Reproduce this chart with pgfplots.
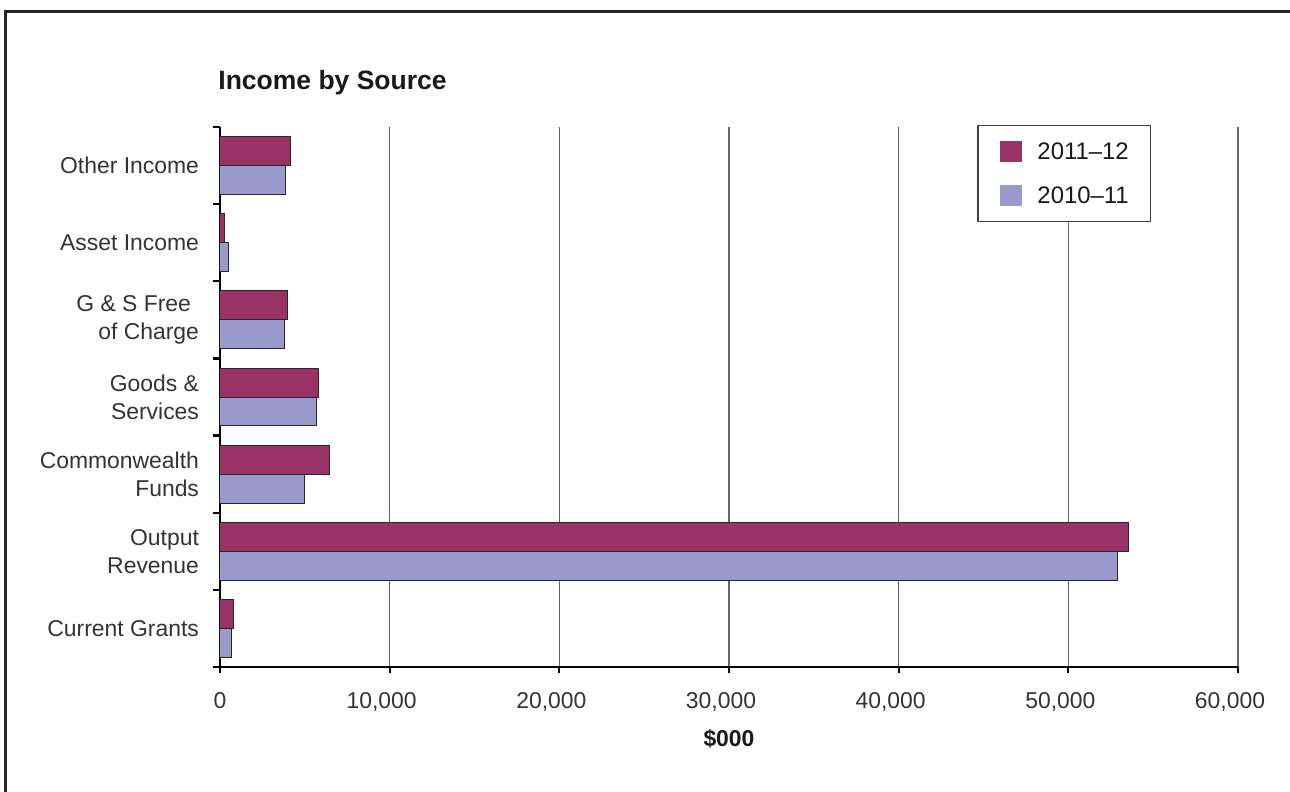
\documentclass[border=0pt]{standalone}
\usepackage{fontspec}
\setmainfont{Liberation Sans}
\usepackage{pgfplots}
\pgfplotsset{compat=1.18}

\definecolor{plum}{HTML}{993366}
\definecolor{lavender}{HTML}{9999CC}
\definecolor{edge}{HTML}{262626}
\definecolor{labelgray}{HTML}{333333}

\begin{document}
\begin{tikzpicture}[x=1bp,y=1bp]
% page area and outer frame
\useasboundingbox (-110bp,-62.5bp) rectangle (535bp,333.5bp);
\draw[line width=1.5bp, edge] (-107bp,-70bp) -- (-107bp,327.5bp) -- (545bp,327.5bp);
\begin{axis}[
  at={(0,0)}, anchor=south west,
  scale only axis,
  width=509bp, height=270bp,
  xbar,
  bar width=0.375,
  xmin=0, xmax=60000,
  ymin=-0.5, ymax=6.5,
  xtick={0,10000,...,60000},
  scaled x ticks=false,
  % thousands labels carry a trailing gap, as in the original layout
  xticklabels={0,{10,000\hspace*{8bp}},{20,000\hspace*{8bp}},{30,000\hspace*{8bp}},{40,000\hspace*{8bp}},{50,000\hspace*{8bp}},{60,000\hspace*{8bp}}},
  ytick={0,...,6},
  yticklabels={Current Grants,{Output\\Revenue},{Commonwealth\\Funds},{Goods \&\\Services},{G \& S Free\hspace*{4bp}\\of Charge},Asset Income,Other Income},
  minor ytick={-0.5,0.5,...,6.5},
  axis x line=bottom, axis y line=left,
  axis line style={-, line width=1.1bp, black},
  major y tick style={draw=none},
  minor tick length=3.5bp,
  major tick length=3bp,
  tick align=outside,
  xtick align=outside, ytick align=outside,
  tick style={line width=1.1bp, black},
  xmajorgrids,
  grid style={line width=0.6bp, black!60},
  ticklabel style={font=\fontsize{11.5}{14}\selectfont, text=labelgray},
  yticklabel style={align=right, xshift=-4bp},
  xticklabel style={yshift=-6bp},
  xlabel={\textbf{\$000}},
  xlabel style={font=\fontsize{11.5}{14}\selectfont, text=black!90, yshift=-2.5bp},
  legend style={
    at={(rel axis cs:0.744,1.0037)}, anchor=north west,
    draw=black!75, line width=0.6bp,
    inner xsep=11bp, inner ysep=7.5bp,
    row sep=11.2bp,
    font=\fontsize{12}{14}\selectfont,
    nodes={inner sep=0pt, text height=8.5bp, text depth=0pt, text=black!90},
  },
  legend cell align=left,
  legend image code/.code={%
    \fill[#1, draw=none] (0bp,-5.4bp) rectangle (10.8bp,5.4bp);
    \path (18.5bp,0bp);
  },
]
% 2011--12 ($000)
\addplot[fill=plum, draw=edge, line width=0.5bp, bar shift=0.1875]
  coordinates {(790,0) (53570,1) (6450,2) (5780,3) (3990,4) (250,5) (4150,6)};
% 2010--11 ($000)
\addplot[fill=lavender, draw=edge, line width=0.5bp, bar shift=-0.1875]
  coordinates {(650,0) (52900,1) (4970,2) (5700,3) (3820,4) (490,5) (3890,6)};
\legend{2011--12,2010--11}
\end{axis}
\node[anchor=base west, inner sep=0pt, font=\bfseries\fontsize{13.3}{16}\selectfont, text=black!90]
  at (-1bp,288.9bp) {Income by Source};
\end{tikzpicture}
\end{document}
